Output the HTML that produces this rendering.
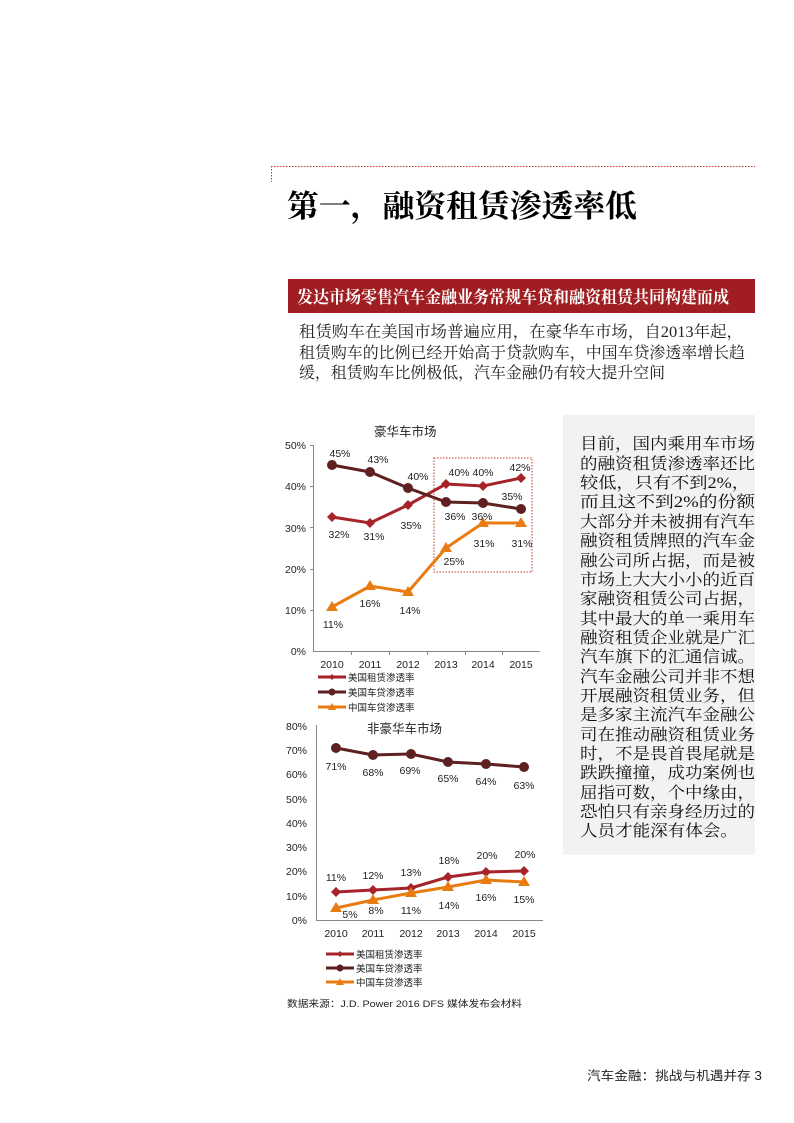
<!DOCTYPE html>
<html><head><meta charset="utf-8"><style>
body{margin:0;background:#fff}
svg{display:block}
.s{font-family:"Liberation Serif","Noto Serif CJK SC",serif}
.a{font-family:"Liberation Sans","Noto Sans CJK SC",sans-serif}
</style></head><body>
<svg width="794" height="1123" viewBox="0 0 794 1123" xmlns="http://www.w3.org/2000/svg">
<line x1="271" y1="166.5" x2="755" y2="166.5" stroke="#c0392b" stroke-width="1" stroke-dasharray="1.5,1.5"/>
<line x1="271.5" y1="166" x2="271.5" y2="182" stroke="#c0392b" stroke-width="1" stroke-dasharray="1.5,1.5"/>
<text x="287" y="217" class="s" font-size="31" font-weight="bold" textLength="350" lengthAdjust="spacingAndGlyphs">第一，融资租赁渗透率低</text>
<rect x="288" y="279" width="467" height="34" fill="#a01e22"/>
<text x="297" y="303" class="s" font-size="17" font-weight="bold" fill="#fff" textLength="432" lengthAdjust="spacingAndGlyphs">发达市场零售汽车金融业务常规车贷和融资租赁共同构建而成</text>
<g class="s" font-size="16" fill="#222">
<text x="299" y="337" textLength="444" lengthAdjust="spacingAndGlyphs">租赁购车在美国市场普遍应用，在豪华车市场，自2013年起，</text>
<text x="299" y="358" textLength="446" lengthAdjust="spacingAndGlyphs">租赁购车的比例已经开始高于贷款购车，中国车贷渗透率增长趋</text>
<text x="299" y="378" textLength="366" lengthAdjust="spacingAndGlyphs">缓，租赁购车比例极低，汽车金融仍有较大提升空间</text>
</g>
<rect x="563" y="415" width="192" height="440" fill="#f2f2f2"/>
<g class="s" font-size="16" fill="#111">
<text x="580" y="449" textLength="175" lengthAdjust="spacingAndGlyphs">目前，国内乘用车市场</text>
<text x="580" y="469" textLength="175" lengthAdjust="spacingAndGlyphs">的融资租赁渗透率还比</text>
<text x="580" y="488" textLength="170" lengthAdjust="spacingAndGlyphs">较低，只有不到2%，</text>
<text x="580" y="507" textLength="175" lengthAdjust="spacingAndGlyphs">而且这不到2%的份额</text>
<text x="580" y="527" textLength="175" lengthAdjust="spacingAndGlyphs">大部分并未被拥有汽车</text>
<text x="580" y="546" textLength="175" lengthAdjust="spacingAndGlyphs">融资租赁牌照的汽车金</text>
<text x="580" y="566" textLength="175" lengthAdjust="spacingAndGlyphs">融公司所占据，而是被</text>
<text x="580" y="585" textLength="175" lengthAdjust="spacingAndGlyphs">市场上大大小小的近百</text>
<text x="580" y="604" textLength="175" lengthAdjust="spacingAndGlyphs">家融资租赁公司占据，</text>
<text x="580" y="624" textLength="175" lengthAdjust="spacingAndGlyphs">其中最大的单一乘用车</text>
<text x="580" y="643" textLength="175" lengthAdjust="spacingAndGlyphs">融资租赁企业就是广汇</text>
<text x="580" y="662" textLength="175" lengthAdjust="spacingAndGlyphs">汽车旗下的汇通信诚。</text>
<text x="580" y="682" textLength="175" lengthAdjust="spacingAndGlyphs">汽车金融公司并非不想</text>
<text x="580" y="701" textLength="175" lengthAdjust="spacingAndGlyphs">开展融资租赁业务，但</text>
<text x="580" y="720" textLength="175" lengthAdjust="spacingAndGlyphs">是多家主流汽车金融公</text>
<text x="580" y="740" textLength="175" lengthAdjust="spacingAndGlyphs">司在推动融资租赁业务</text>
<text x="580" y="759" textLength="175" lengthAdjust="spacingAndGlyphs">时，不是畏首畏尾就是</text>
<text x="580" y="778" textLength="175" lengthAdjust="spacingAndGlyphs">跌跌撞撞，成功案例也</text>
<text x="580" y="798" textLength="175" lengthAdjust="spacingAndGlyphs">屈指可数，个中缘由，</text>
<text x="580" y="817" textLength="175" lengthAdjust="spacingAndGlyphs">恐怕只有亲身经历过的</text>
<text x="580" y="836" textLength="158" lengthAdjust="spacingAndGlyphs">人员才能深有体会。</text>
</g>

<!-- Chart 1 -->
<g class="a" font-size="10.5" fill="#222">
<text x="374" y="436" font-size="12.5">豪华车市场</text>
<line x1="313.5" y1="445" x2="313.5" y2="652" stroke="#888"/>
<line x1="313" y1="651.5" x2="540" y2="651.5" stroke="#888"/>
<g text-anchor="end">
<text x="306" y="449">50%</text><text x="306" y="490">40%</text><text x="306" y="532">30%</text>
<text x="306" y="573">20%</text><text x="306" y="614">10%</text><text x="306" y="655">0%</text>
</g>
<g stroke="#888"><line x1="310" y1="445.5" x2="313" y2="445.5"/><line x1="310" y1="486.5" x2="313" y2="486.5"/><line x1="310" y1="527.5" x2="313" y2="527.5"/><line x1="310" y1="569.5" x2="313" y2="569.5"/><line x1="310" y1="610.5" x2="313" y2="610.5"/>
<line x1="351.5" y1="651" x2="351.5" y2="655"/><line x1="389.5" y1="651" x2="389.5" y2="655"/><line x1="427.5" y1="651" x2="427.5" y2="655"/><line x1="465.5" y1="651" x2="465.5" y2="655"/><line x1="502.5" y1="651" x2="502.5" y2="655"/></g>
<g text-anchor="middle"><text x="332" y="668">2010</text><text x="370" y="668">2011</text><text x="408" y="668">2012</text><text x="446" y="668">2013</text><text x="483" y="668">2014</text><text x="521" y="668">2015</text></g>
<rect x="434" y="458" width="98" height="114" fill="none" stroke="#c0392b" stroke-dasharray="1.5,1.5"/>
<polyline points="332,517 370,523 408,505 446,484 483,486 521,478" fill="none" stroke="#a6232a" stroke-width="3"/>
<polyline points="332,465 370,472 408,488 446,502 483,503 521,509" fill="none" stroke="#5e2020" stroke-width="3"/>
<polyline points="332,607 370,586 408,592 446,548 483,523 521,523" fill="none" stroke="#e87c12" stroke-width="3"/>
<g fill="#a6232a"><path d="M332,512l5,5-5,5-5-5z"/><path d="M370,518l5,5-5,5-5-5z"/><path d="M408,500l5,5-5,5-5-5z"/><path d="M446,479l5,5-5,5-5-5z"/><path d="M483,481l5,5-5,5-5-5z"/><path d="M521,473l5,5-5,5-5-5z"/></g>
<g fill="#5e2020"><circle cx="332" cy="465" r="5"/><circle cx="370" cy="472" r="5"/><circle cx="408" cy="488" r="5"/><circle cx="446" cy="502" r="5"/><circle cx="483" cy="503" r="5"/><circle cx="521" cy="509" r="5"/></g>
<g fill="#e87c12"><path d="M332,601l6,10h-12z"/><path d="M370,580l6,10h-12z"/><path d="M408,586l6,10h-12z"/><path d="M446,542l6,10h-12z"/><path d="M483,517l6,10h-12z"/><path d="M521,517l6,10h-12z"/></g>
<g text-anchor="middle">
<text x="340" y="457">45%</text><text x="378" y="463">43%</text><text x="418" y="480">40%</text><text x="459" y="476">40%</text><text x="483" y="476">40%</text><text x="520" y="471">42%</text>
<text x="339" y="538">32%</text><text x="374" y="540">31%</text><text x="411" y="529">35%</text><text x="455" y="520">36%</text><text x="482" y="520">36%</text><text x="512" y="500">35%</text>
<text x="333" y="628">11%</text><text x="370" y="607">16%</text><text x="410" y="614">14%</text><text x="454" y="565">25%</text><text x="484" y="547">31%</text><text x="522" y="547">31%</text>
</g>
<g font-size="9.5">
<line x1="318" y1="677" x2="346" y2="677" stroke="#a6232a" stroke-width="3"/><path d="M332,674l3,3-3,3-3-3z" fill="#a6232a"/><text x="348" y="681">美国租赁渗透率</text>
<line x1="318" y1="692" x2="346" y2="692" stroke="#5e2020" stroke-width="3"/><circle cx="332" cy="692" r="3.5" fill="#5e2020"/><text x="348" y="696">美国车贷渗透率</text>
<line x1="318" y1="707" x2="346" y2="707" stroke="#e87c12" stroke-width="3"/><path d="M332,703l4,7h-8z" fill="#e87c12"/><text x="348" y="711">中国车贷渗透率</text>
</g>
</g>

<!-- Chart 2 -->
<g class="a" font-size="10.5" fill="#222">
<text x="367" y="733" font-size="12.5">非豪华车市场</text>
<line x1="316.5" y1="725" x2="316.5" y2="921" stroke="#888"/>
<line x1="316" y1="920.5" x2="543" y2="920.5" stroke="#888"/>
<g text-anchor="end">
<text x="307" y="730">80%</text><text x="307" y="754">70%</text><text x="307" y="778">60%</text><text x="307" y="803">50%</text>
<text x="307" y="827">40%</text><text x="307" y="851">30%</text><text x="307" y="875">20%</text><text x="307" y="900">10%</text><text x="307" y="924">0%</text>
</g>
<g text-anchor="middle"><text x="336" y="937">2010</text><text x="373" y="937">2011</text><text x="411" y="937">2012</text><text x="448" y="937">2013</text><text x="486" y="937">2014</text><text x="524" y="937">2015</text></g>
<polyline points="336,892 373,890 411,888 448,877 486,872 524,871" fill="none" stroke="#a6232a" stroke-width="3"/>
<polyline points="336,748 373,755 411,754 448,762 486,764 524,767" fill="none" stroke="#5e2020" stroke-width="3"/>
<polyline points="336,908 373,900 411,893 448,887 486,880 524,882" fill="none" stroke="#e87c12" stroke-width="3"/>
<g fill="#a6232a"><path d="M336,887l5,5-5,5-5-5z"/><path d="M373,885l5,5-5,5-5-5z"/><path d="M411,883l5,5-5,5-5-5z"/><path d="M448,872l5,5-5,5-5-5z"/><path d="M486,867l5,5-5,5-5-5z"/><path d="M524,866l5,5-5,5-5-5z"/></g>
<g fill="#5e2020"><circle cx="336" cy="748" r="5"/><circle cx="373" cy="755" r="5"/><circle cx="411" cy="754" r="5"/><circle cx="448" cy="762" r="5"/><circle cx="486" cy="764" r="5"/><circle cx="524" cy="767" r="5"/></g>
<g fill="#e87c12"><path d="M336,902l6,10h-12z"/><path d="M373,894l6,10h-12z"/><path d="M411,887l6,10h-12z"/><path d="M448,881l6,10h-12z"/><path d="M486,874l6,10h-12z"/><path d="M524,876l6,10h-12z"/></g>
<g text-anchor="middle">
<text x="336" y="770">71%</text><text x="373" y="776">68%</text><text x="410" y="774">69%</text><text x="448" y="782">65%</text><text x="486" y="785">64%</text><text x="524" y="789">63%</text>
<text x="336" y="881">11%</text><text x="373" y="879">12%</text><text x="411" y="876">13%</text><text x="449" y="864">18%</text><text x="487" y="859">20%</text><text x="525" y="858">20%</text>
<text x="350" y="918">5%</text><text x="376" y="914">8%</text><text x="411" y="914">11%</text><text x="449" y="909">14%</text><text x="486" y="901">16%</text><text x="524" y="903">15%</text>
</g>
<g font-size="9.5">
<line x1="326" y1="954" x2="354" y2="954" stroke="#a6232a" stroke-width="3"/><path d="M340,951l3,3-3,3-3-3z" fill="#a6232a"/><text x="356" y="958">美国租赁渗透率</text>
<line x1="326" y1="968" x2="354" y2="968" stroke="#5e2020" stroke-width="3"/><circle cx="340" cy="968" r="3.5" fill="#5e2020"/><text x="356" y="972">美国车贷渗透率</text>
<line x1="326" y1="982" x2="354" y2="982" stroke="#e87c12" stroke-width="3"/><path d="M340,978l4,7h-8z" fill="#e87c12"/><text x="356" y="986">中国车贷渗透率</text>
</g>
<text x="287" y="1007" font-size="9.5" textLength="235" lengthAdjust="spacingAndGlyphs">数据来源：J.D. Power 2016 DFS 媒体发布会材料</text>
</g>
<text x="587" y="1080" class="a" font-size="12.5" fill="#222" textLength="175" lengthAdjust="spacingAndGlyphs">汽车金融：挑战与机遇并存 3</text>
</svg>
</body></html>
